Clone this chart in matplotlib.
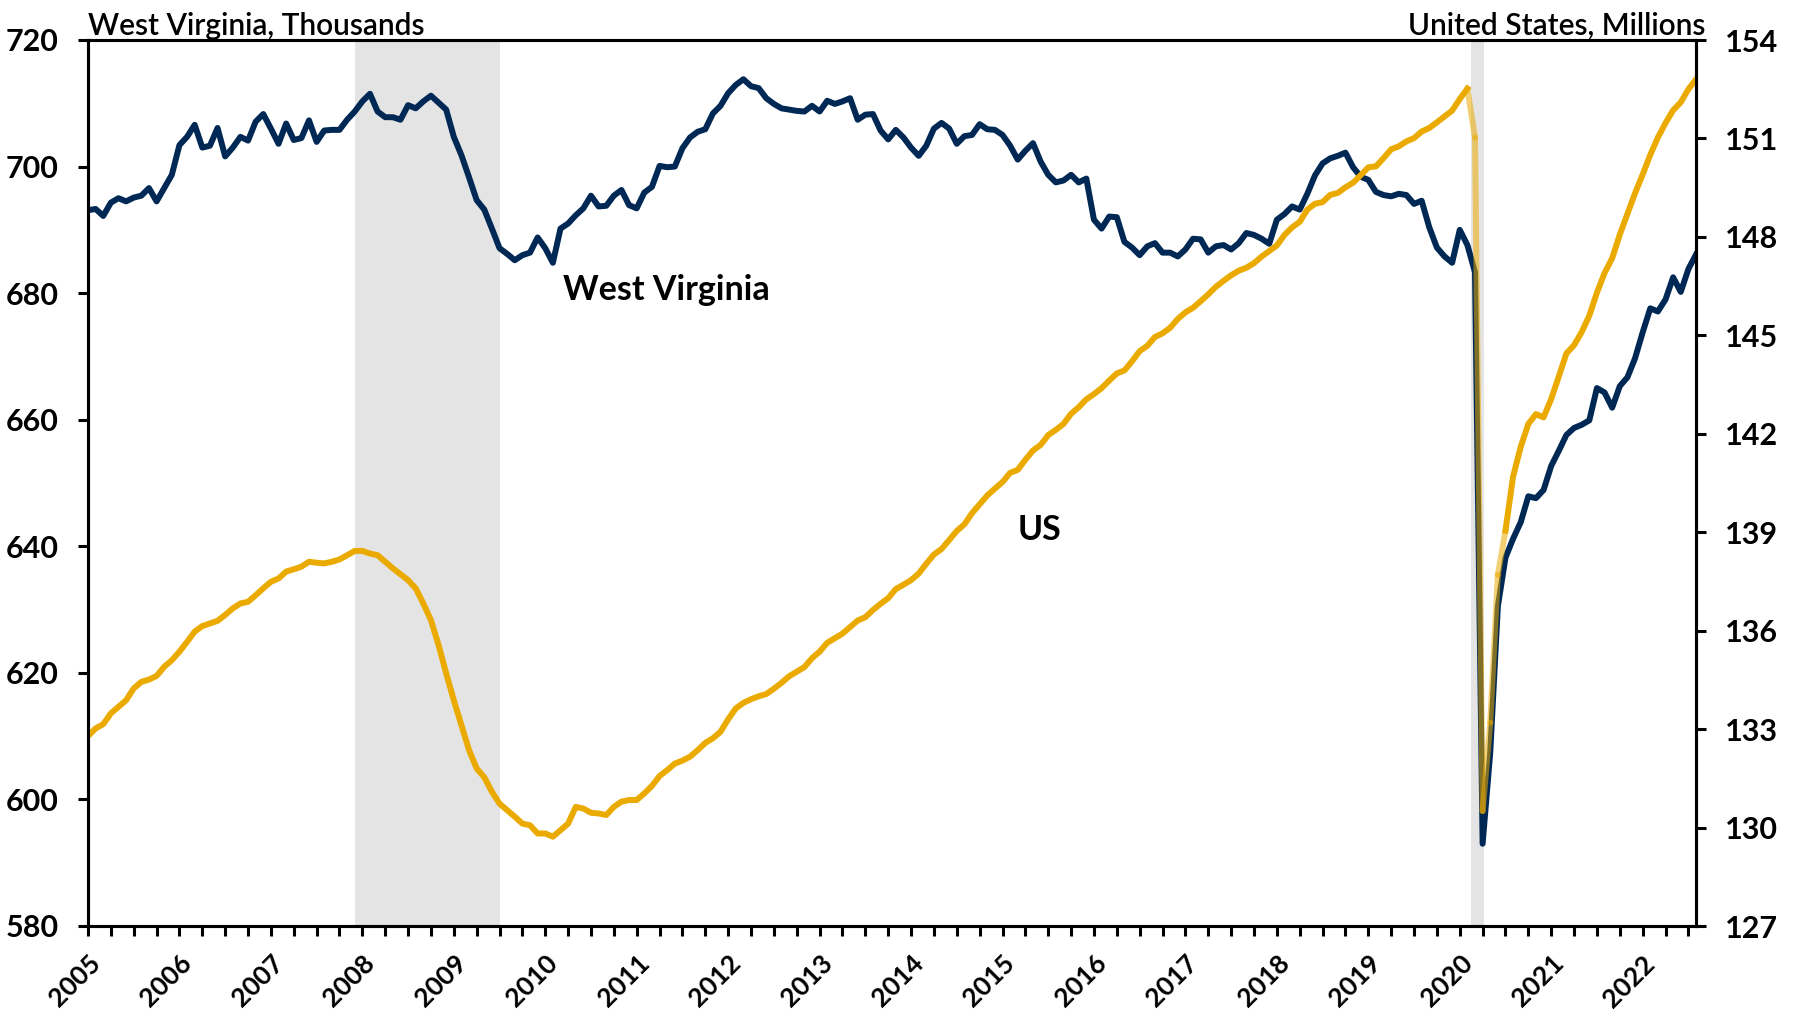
import numpy as np
import matplotlib
matplotlib.use("Agg")
import matplotlib.pyplot as plt

plt.rcParams['font.family'] = ['Lato', 'DejaVu Sans']

# monthly payroll employment, Jan 2005 - Aug 2022
wv_thousands = [
    693.1, 693.3, 692.2, 694.3, 695.0, 694.5, 695.1, 695.4, 696.6, 694.5, 696.6, 698.7,  # 2005
    703.4, 704.7, 706.6, 703.0, 703.3, 706.1, 701.6, 703.0, 704.7, 704.1, 707.1, 708.3,  # 2006
    706.0, 703.6, 706.8, 704.2, 704.5, 707.3, 703.9, 705.7, 705.8, 705.8, 707.4, 708.7,  # 2007
    710.3, 711.5, 708.7, 707.8, 707.8, 707.4, 709.7, 709.2, 710.3, 711.2, 710.1, 709.0,  # 2008
    704.7, 701.8, 698.3, 694.7, 693.2, 690.2, 687.1, 686.2, 685.2, 686.0, 686.4, 688.8,  # 2009
    687.1, 684.8, 690.2, 691.0, 692.3, 693.4, 695.4, 693.7, 693.8, 695.4, 696.3, 693.9,  # 2010
    693.4, 695.9, 696.8, 700.1, 699.9, 700.0, 702.9, 704.6, 705.5, 705.9, 708.4, 709.6,  # 2011
    711.6, 712.9, 713.8, 712.7, 712.4, 710.8, 709.9, 709.2, 709.0, 708.8, 708.7, 709.6,  # 2012
    708.7, 710.4, 709.9, 710.3, 710.8, 707.4, 708.2, 708.3, 705.7, 704.3, 705.8, 704.6,  # 2013
    703.0, 701.7, 703.3, 706.0, 706.9, 706.0, 703.6, 704.8, 705.0, 706.7, 705.9, 705.8,  # 2014
    705.0, 703.3, 701.1, 702.5, 703.7, 700.8, 698.7, 697.5, 697.8, 698.7, 697.5, 698.1,  # 2015
    691.6, 690.2, 692.1, 692.0, 688.1, 687.2, 686.0, 687.4, 687.9, 686.4, 686.4, 685.8,  # 2016
    686.9, 688.6, 688.5, 686.4, 687.4, 687.6, 686.9, 687.9, 689.5, 689.2, 688.6, 687.8,  # 2017
    691.6, 692.5, 693.7, 693.2, 695.7, 698.6, 700.5, 701.3, 701.7, 702.2, 699.9, 698.4,  # 2018
    697.9, 696.0, 695.5, 695.3, 695.7, 695.5, 694.1, 694.6, 690.4, 687.2, 685.8, 684.8,  # 2019
    690.0, 687.6, 683.3, 593.0, 607.4, 630.5, 638.2, 641.2, 643.8, 647.9, 647.6, 648.9,  # 2020
    652.7, 655.1, 657.6, 658.7, 659.2, 659.9, 665.0, 664.3, 661.9, 665.3, 666.7, 669.7,  # 2021
    673.8, 677.6, 677.1, 679.0, 682.5, 680.2, 683.8, 686.1,                              # 2022
]
us_millions = [
    132.79, 133.02, 133.15, 133.48, 133.68, 133.88, 134.24, 134.44, 134.51, 134.62, 134.90, 135.10,
    135.36, 135.66, 135.97, 136.14, 136.22, 136.30, 136.48, 136.68, 136.83, 136.88, 137.08, 137.29,
    137.49, 137.59, 137.80, 137.87, 137.95, 138.10, 138.07, 138.05, 138.10, 138.17, 138.30, 138.43,
    138.43, 138.35, 138.30, 138.10, 137.90, 137.72, 137.54, 137.29, 136.83, 136.32, 135.56, 134.70,
    133.88, 133.12, 132.36, 131.80, 131.53, 131.09, 130.73, 130.53, 130.33, 130.12, 130.07, 129.82,
    129.82, 129.72, 129.92, 130.12, 130.63, 130.58, 130.45, 130.43, 130.38, 130.63, 130.79, 130.84,
    130.84, 131.04, 131.27, 131.57, 131.75, 131.95, 132.04, 132.16, 132.36, 132.58, 132.72, 132.92,
    133.30, 133.63, 133.80, 133.91, 134.00, 134.07, 134.23, 134.41, 134.61, 134.75, 134.89, 135.16,
    135.36, 135.63, 135.77, 135.91, 136.11, 136.31, 136.41, 136.63, 136.82, 136.99, 137.27, 137.40,
    137.54, 137.74, 138.04, 138.32, 138.49, 138.76, 139.04, 139.24, 139.58, 139.85, 140.12, 140.33,
    140.53, 140.81, 140.90, 141.21, 141.49, 141.66, 141.96, 142.12, 142.30, 142.61, 142.81, 143.05,
    143.21, 143.39, 143.62, 143.84, 143.93, 144.21, 144.52, 144.68, 144.95, 145.06, 145.23, 145.50,
    145.70, 145.84, 146.04, 146.25, 146.48, 146.66, 146.83, 146.97, 147.06, 147.20, 147.40, 147.57,
    147.74, 148.06, 148.29, 148.46, 148.83, 149.01, 149.06, 149.28, 149.34, 149.51, 149.65, 149.88,
    150.12, 150.15, 150.40, 150.67, 150.76, 150.91, 151.01, 151.21, 151.32, 151.49, 151.67, 151.85,
    152.20, 152.52, 151.03, 130.50, 133.20, 137.70, 139.05, 140.70, 141.60, 142.30, 142.60, 142.50,
    143.06, 143.75, 144.45, 144.70, 145.10, 145.60, 146.30, 146.90, 147.35, 148.07, 148.70, 149.33,
    149.90, 150.50, 151.03, 151.47, 151.86, 152.10, 152.50, 152.80,
]
start_year = 2005
recessions = [(2007.92, 2009.5), (2020.12, 2020.27)]
# months (index) where the US line is drawn faded
faded = (181, 186)

navy = '#002855'
gold = '#EAAA00'

months = start_year + np.arange(len(wv_thousands)) / 12
us = np.array(us_millions)

fig = plt.figure(figsize=(17.97, 10.16), dpi=100)
ax = fig.add_axes([88/1797, 1 - 926/1016, 1608/1797, 886/1016])
ax2 = ax.twinx()

for a, b in recessions:
    ax.axvspan(a, b, color='#E4E4E4', lw=0, zorder=0)

ax.plot(months, wv_thousands, color=navy, lw=4.3, solid_joinstyle='round', zorder=3)

f0, f1 = faded
ax2.plot(months[:f0 + 1], us[:f0 + 1], color=gold, lw=4.3, solid_joinstyle='round')
ax2.plot(months[f1:], us[f1:], color=gold, lw=4.3, solid_joinstyle='round')
for k in range(f0, f1):
    ax2.plot(months[k:k + 2], us[k:k + 2], color=gold, lw=4.3, alpha=0.55,
             solid_capstyle='round')

ax.set_xlim(months[0], months[-1])
ax.set_ylim(580, 720)
ax.set_yticks(np.arange(580, 721, 20))
ax2.set_ylim(127, 154)
ax2.set_yticks(np.arange(127, 155, 3))

quarters = np.arange(start_year, months[-1] + 0.01, 0.25)
labels = [str(int(q)) if q == int(q) else '' for q in quarters]
ax.set_xticks(quarters)
ax.set_xticklabels(labels)
plt.setp(ax.get_xticklabels(), rotation=45, ha='right', va='top',
         rotation_mode='anchor', fontsize=19, fontweight='bold')

for a in (ax, ax2):
    for s in a.spines.values():
        s.set_linewidth(2.2)
        s.set_color('black')
    a.tick_params(axis='y', length=7, width=2.2, pad=14, labelsize=22)
    for t in a.get_yticklabels():
        t.set_fontweight('bold')
ax.tick_params(axis='x', length=7, width=2.2, pad=11)

ax.text(0.0, 1.006, 'West Virginia, Thousands', transform=ax.transAxes,
        ha='left', va='baseline', fontsize=21.5, fontweight='semibold')
ax.text(1.0056, 1.006, 'United States, Millions', transform=ax.transAxes,
        ha='right', va='baseline', fontsize=21.5, fontweight='semibold')

ax.text(2011.32, 680.5, 'West Virginia', ha='center', va='center',
        fontsize=24.5, fontweight='bold')
ax.text(2015.4, 642.5, 'US', ha='center', va='center',
        fontsize=24.5, fontweight='bold')

fig.savefig('out.png', dpi=100)
